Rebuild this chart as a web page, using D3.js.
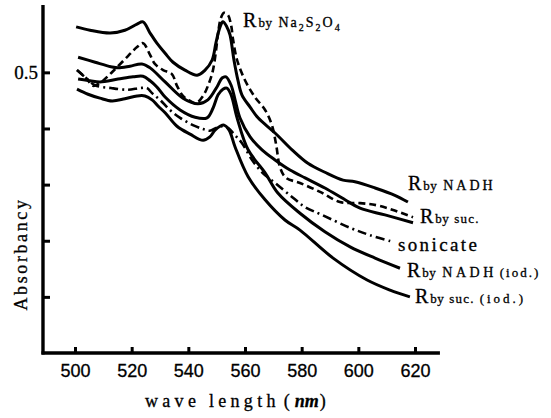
<!DOCTYPE html>
<html>
<head>
<meta charset="utf-8">
<script src="https://cdn.jsdelivr.net/npm/d3@7"></script>
<style>
	body { margin: 0; background: #fff; }
	text { font-family: "Liberation Serif", "DejaVu Serif", serif; fill: #000; stroke: #000; stroke-width: 0.3px; }
</style>
</head>
<body>
<script>
"use strict";

// [wave length (nm), absorbancy]

let byNa2S2O4 = [
	[500.7, 0.504], [503.9, 0.490], [506.4, 0.476], [508.8, 0.481], [513.4, 0.502],
	[518.7, 0.529], [521.9, 0.545], [524.0, 0.552], [526.5, 0.531], [528.2, 0.515],
	[531.1, 0.504], [534.2, 0.497], [536.0, 0.476], [538.1, 0.458], [540.6, 0.449],
	[542.7, 0.445], [545.2, 0.458], [547.3, 0.481], [548.7, 0.504], [549.8, 0.540],
	[550.5, 0.570], [551.5, 0.597], [552.6, 0.606], [554.0, 0.602], [555.1, 0.584],
	[555.8, 0.558], [557.2, 0.522], [560.0, 0.486], [563.5, 0.456], [567.1, 0.433],
	[569.5, 0.406], [571.0, 0.371], [572.4, 0.330], [574.5, 0.312], [579.4, 0.303],
	[586.5, 0.287], [593.5, 0.269], [600.6, 0.267], [607.6, 0.262], [619.3, 0.242]
];

let byNADH = [
	[500.4, 0.581], [505.3, 0.575], [512.4, 0.570], [517.6, 0.575], [521.9, 0.586],
	[524.0, 0.590], [526.5, 0.570], [528.9, 0.552], [531.8, 0.534], [534.6, 0.518],
	[538.8, 0.504], [543.1, 0.495], [545.9, 0.504], [548.4, 0.522], [549.8, 0.554],
	[551.2, 0.581], [552.2, 0.590], [553.6, 0.581], [554.7, 0.567], [556.1, 0.522],
	[557.5, 0.486], [558.9, 0.460], [561.8, 0.438], [564.6, 0.419], [570.6, 0.392],
	[576.6, 0.362], [582.2, 0.338], [588.2, 0.322], [594.6, 0.308], [598.8, 0.305],
	[605.9, 0.294], [612.9, 0.281], [617.5, 0.269]
];

let bySuc = [
	[501.1, 0.527], [507.1, 0.518], [512.7, 0.510], [515.2, 0.508], [519.4, 0.511],
	[523.6, 0.515], [526.5, 0.508], [531.8, 0.483], [538.1, 0.454], [543.4, 0.444],
	[546.9, 0.451], [550.1, 0.474], [551.9, 0.490], [553.3, 0.492], [555.1, 0.477],
	[556.5, 0.451], [558.2, 0.419], [561.8, 0.385], [566.0, 0.362], [570.6, 0.344],
	[575.9, 0.326], [581.2, 0.312], [588.2, 0.294], [595.3, 0.273], [600.6, 0.258],
	[609.4, 0.246], [619.3, 0.232]
];

let sonicate = [
	[500.7, 0.504], [503.9, 0.490], [507.1, 0.477], [512.7, 0.472], [518.7, 0.469],
	[522.9, 0.472], [525.4, 0.472], [527.2, 0.463], [530.0, 0.451], [533.5, 0.433],
	[537.1, 0.419], [541.6, 0.406], [545.2, 0.399], [547.6, 0.396], [549.8, 0.401],
	[551.9, 0.404], [554.0, 0.401], [556.5, 0.388], [558.9, 0.374], [562.5, 0.344],
	[566.0, 0.322], [570.6, 0.303], [576.6, 0.278], [581.2, 0.260], [587.2, 0.246],
	[597.1, 0.223], [604.1, 0.210], [612.2, 0.198]
];

let byNADHiod = [
	[501.1, 0.488], [505.3, 0.485], [508.8, 0.483], [515.2, 0.488], [520.5, 0.492],
	[524.0, 0.493], [526.5, 0.485], [528.9, 0.474], [531.8, 0.456], [537.1, 0.433],
	[542.4, 0.420], [546.6, 0.419], [548.7, 0.436], [550.5, 0.460], [552.2, 0.470],
	[553.6, 0.472], [555.1, 0.460], [557.2, 0.419], [561.1, 0.362], [567.1, 0.321],
	[571.6, 0.285], [579.4, 0.249], [588.2, 0.216], [597.1, 0.189], [605.9, 0.169],
	[614.7, 0.151]
];

let bySucIod = [
	[500.7, 0.470], [504.6, 0.461], [508.8, 0.454], [513.1, 0.449], [517.6, 0.453],
	[521.9, 0.458], [524.7, 0.458], [527.2, 0.451], [529.3, 0.440], [531.8, 0.428],
	[536.0, 0.404], [540.6, 0.390], [545.2, 0.379], [547.6, 0.385], [549.4, 0.397],
	[551.2, 0.404], [552.6, 0.406], [554.4, 0.397], [556.5, 0.367], [561.1, 0.314],
	[567.1, 0.273], [574.1, 0.237], [579.4, 0.219], [591.1, 0.169], [603.1, 0.130],
	[611.2, 0.112], [618.2, 0.100]
];

let xTicks = [500, 520, 540, 560, 580, 600, 620];
let yTicks = [0.1, 0.2, 0.3, 0.4, 0.5];
let yTickLabels = ["", "", "", "", "0.5"];

let xTitle = "wave length";
let xUnit = "nm";
let yTitle = "Absorbancy";


function draw() {

	let width = 551,
		height = 418;

	let svg = d3.select("body")
		.append("svg")
			.attr("width", width)
			.attr("height", height);

	let xScale = d3.scaleLinear()
		.domain([500, 620])
		.range([75, 415]);

	let yScale = d3.scaleLinear()
		.domain([0, 0.62])
		.range([353, 5]);

	let xLeft = xScale(488.7),
		xRight = xScale(628.8);

	// axes

	let xAxis = svg.append("g")
		.attr("transform", "translate(0," + yScale(0) + ")")
		.call(d3.axisBottom(xScale)
			.tickValues(xTicks)
			.tickSize(-6)
			.tickPadding(11)
			.tickFormat(d3.format("d")));

	xAxis.select(".domain").remove();
	xAxis.selectAll("line").attr("stroke-width", 3);
	xAxis.selectAll("text")
		.style("font-family", "'Liberation Sans', Arial, sans-serif")
		.style("font-size", "18px");

	let yAxis = svg.append("g")
		.attr("transform", "translate(" + xLeft + ",0)")
		.call(d3.axisLeft(yScale)
			.tickValues(yTicks)
			.tickSize(-7)
			.tickPadding(5)
			.tickFormat(function (d, i) { return yTickLabels[i]; }));

	yAxis.select(".domain").remove();
	yAxis.selectAll("line").attr("stroke-width", 3);
	yAxis.selectAll("text").style("font-size", "19px");

	svg.append("line")
		.attr("x1", xLeft).attr("x2", xLeft)
		.attr("y1", yScale(0.62)).attr("y2", yScale(0) + 1.5)
		.attr("stroke", "#000")
		.attr("stroke-width", 3.4);

	svg.append("line")
		.attr("x1", xLeft - 1.5).attr("x2", xRight)
		.attr("y1", yScale(0)).attr("y2", yScale(0))
		.attr("stroke", "#000")
		.attr("stroke-width", 3.4);

	// axis titles

	let xt = svg.append("text")
		.attr("x", 145)
		.attr("y", 407)
		.style("font-size", "18px");
	xt.append("tspan").text(xTitle).style("letter-spacing", "4.3px");
	xt.append("tspan").text("(").attr("dx", 4);
	xt.append("tspan").text(xUnit).attr("dx", 5).style("font-style", "italic").style("font-weight", "bold");
	xt.append("tspan").text(")").attr("dx", 1);

	svg.append("text")
		.attr("transform", "translate(27,254) rotate(-90)")
		.attr("text-anchor", "middle")
		.style("font-size", "18px")
		.style("letter-spacing", "2.6px")
		.text(yTitle);

	// curves

	let line = d3.line()
		.x(function (d) { return xScale(d[0]); })
		.y(function (d) { return yScale(d[1]); })
		.curve(d3.curveCatmullRom.alpha(0.5));

	let series = [
		{ data: byNADH,    dash: null },
		{ data: bySuc,     dash: null },
		{ data: byNADHiod, dash: null },
		{ data: bySucIod,  dash: null },
		{ data: sonicate,  dash: "9,4,2,4" },
		{ data: byNa2S2O4, dash: "7,4" }
	];

	svg.selectAll(".curve")
		.data(series)
		.enter()
		.append("path")
			.attr("class", "curve")
			.attr("d", function (d) { return line(d.data); })
			.attr("fill", "none")
			.attr("stroke", "#000")
			.attr("stroke-width", function (d) { return d.dash ? 2.6 : 3; })
			.attr("stroke-linejoin", "round")
			.attr("stroke-dasharray", function (d) { return d.dash; });

	// labels next to the curves

	function label(pt, dx, dy, parts) {
		let t = svg.append("text")
			.attr("x", xScale(pt[0]) + dx)
			.attr("y", yScale(pt[1]) + dy);
		parts.forEach(function (p) {
			let s = t.append("tspan").text(p.t).style("font-size", p.size + "px");
			if (p.dx) { s.attr("dx", p.dx); }
			if (p.dy) { s.attr("dy", p.dy); }
			if (p.ls) { s.style("letter-spacing", p.ls + "px"); }
		});
	}

	function rBy(rest) {
		return [
			{ t: "R", size: 20 },
			{ t: "by", size: 13, dx: 2, ls: 0.5 }
		].concat(rest);
	}

	let last = function (arr) { return arr[arr.length - 1]; };

	// peak of the dithionite curve
	let peak = byNa2S2O4.reduce(function (a, b) { return b[1] > a[1] ? b : a; });

	label(peak, 19, 14, rBy([
		{ t: "Na", size: 14, dx: 6, ls: 2 },
		{ t: "2", size: 10, dy: 4, ls: 2 },
		{ t: "S", size: 14, dy: -4, ls: 2 },
		{ t: "2", size: 10, dy: 4, ls: 2 },
		{ t: "O", size: 14, dy: -4, ls: 2 },
		{ t: "4", size: 10, dy: 4 }
	]));

	label(last(byNADH), 0, -12, rBy([
		{ t: "NADH", size: 14, dx: 6, ls: 3 }
	]));

	label(last(bySuc), 7, 0, rBy([
		{ t: "suc.", size: 13, dx: 5, ls: 1.2 }
	]));

	label(last(sonicate), 5, 9, [
		{ t: "sonicate", size: 19, ls: 2.4 }
	]);

	label(last(byNADHiod), 7, 9, rBy([
		{ t: "NADH", size: 14, dx: 6, ls: 3.5 },
		{ t: "(iod.)", size: 13, dx: 3, ls: 2 }
	]));

	label(last(bySucIod), 5, 6, rBy([
		{ t: "suc.", size: 13, dx: 5, ls: 1.2 },
		{ t: "(iod.)", size: 13, dx: 5, ls: 3 }
	]));
}

draw();
</script>
</body>
</html>
